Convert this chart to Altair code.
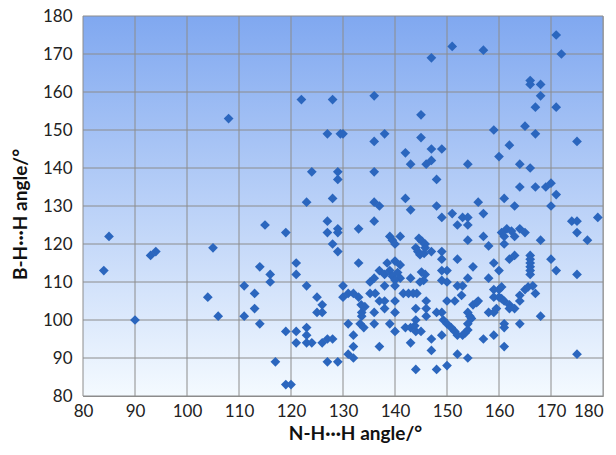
import altair as alt
import pandas as pd

# N-H...H angle (x) and B-H...H angle (y)
xs = [84, 85, 90, 93, 94, 104, 105, 106, 108,
      111, 111, 113, 113, 114, 114, 115, 116, 116, 117,
      119, 119, 119, 120, 121, 121, 121, 121,
      122, 123, 123, 123, 123, 123, 124, 124,
      125, 125, 126, 126, 126, 127, 127, 127, 127, 127,
      128, 128, 128, 128, 129, 129, 129, 129, 129, 129, 129.5,
      130, 130, 130, 131, 131, 131, 132, 132, 132, 132,
      133, 133, 133, 133.5, 133.6, 133.6, 133.3, 134, 134.2,
      135.2, 136, 135.2, 136.2, 136, 136, 136, 136, 136, 136, 137, 136,
      137, 137, 138, 138, 138, 137, 138,
      139, 139.5, 140, 141, 139, 140, 140, 140,
      138.5, 140, 141, 139, 140.5, 139.5, 141, 138, 140, 140,
      141.6, 142.6, 143.5, 144.2,
      142, 143, 142, 143, 143, 142, 143, 143.8, 144, 145, 143, 144, 144, 144,
      145, 145,
      144.6, 145.2, 145.8, 144, 144.4, 144.8, 145.6, 145.8,
      145.1, 145.8, 145.5, 144.8,
      146, 146, 146, 146,
      147, 147, 147, 147, 147, 147,
      148, 148, 148, 148,
      149, 149, 149, 149, 149, 149, 149, 149, 149.3,
      150, 150, 150, 150, 150,
      151, 151, 150.8, 151.5,
      152, 152, 152, 151.5, 152, 152,
      153, 152.8, 153, 153,
      154, 154, 154, 154, 154, 153.5, 154, 154, 154, 154.4, 154.7, 154,
      155, 155, 155.7, 156, 156,
      157, 157, 157, 157,
      158, 158, 158,
      159, 159, 159, 159, 159, 159,
      160, 160, 160, 160, 159.5,
      160.5, 160.5, 160.5, 161, 161, 161, 161, 161, 161, 161,
      161.5, 162, 162, 162, 162.4, 162,
      163, 163, 163, 163,
      164, 164, 164, 164, 164, 164,
      165, 165, 165,
      166, 166, 166, 166, 166, 166, 166, 166, 166, 165.6, 166.5,
      167, 167, 167, 167,
      168, 168, 168, 168,
      169, 170, 170, 170,
      171, 171, 171, 171,
      172,
      174, 175, 175, 175, 175, 175,
      177, 179]
ys = [113, 122, 100, 117, 118, 106, 119, 101, 153,
      109, 101, 107, 103, 114, 99, 125, 112, 110, 89,
      123, 97, 83, 83, 115, 112, 97, 94,
      158, 131, 109, 98, 96, 94, 94, 139,
      106, 102, 104, 102, 94, 95, 89, 126, 123, 149,
      158, 132, 120, 95, 89, 139, 124, 123, 118, 137, 149,
      149, 109, 106, 107, 99, 91, 107, 96, 93, 90,
      106, 124, 115, 104, 102, 101, 99, 98, 103.5,
      110, 111, 107, 107, 102, 99, 159, 147, 139, 131, 130, 126,
      113, 105, 105, 109, 103, 93, 149,
      122, 121, 120, 122, 99, 97, 105, 102,
      115, 115.5, 114.5, 113, 112.5, 111.5, 111, 112, 110.5, 109,
      107, 107, 107, 107,
      132, 129, 144, 141, 111, 98, 98, 98.5, 97, 97, 94, 100, 103, 87,
      154, 148,
      121.5, 120.7, 120, 119, 118, 117.2, 117.5, 119,
      112.6, 112, 110.4, 110,
      141, 105, 103, 101,
      169, 145, 142, 118, 95, 92,
      137, 130, 102, 87,
      145, 127, 118, 116, 113, 110.4, 96, 102, 100,
      113, 110, 105, 99, 88,
      172, 128, 98, 97,
      125, 116, 109, 105, 91, 96,
      127, 106.5, 96, 109,
      141, 127, 125, 121, 111, 96.6, 97.4, 99, 102, 101, 100.4, 90,
      114, 104, 104.6, 105, 131,
      171, 128, 122, 95,
      119.5, 111, 102,
      150, 115, 108, 106, 102, 96,
      143, 113, 108, 106, 103,
      123, 108.7, 105.6, 132, 120, 122, 105, 99, 98, 93,
      124, 146, 116, 104, 123.4, 103,
      130, 117, 122, 103,
      141, 135, 124, 106.5, 105, 99,
      151, 123, 108,
      163, 162, 140, 117, 116, 115, 114, 113, 112, 108.7, 109,
      156, 149, 135, 107,
      162, 159, 121, 101,
      135, 136, 130, 116,
      175, 156, 133, 113,
      170,
      126, 126, 123, 147, 112, 91,
      121, 127]

xticks = [80, 90, 100, 110, 120, 130, 140, 150, 160, 170, 180]
yticks = [80, 90, 100, 110, 120, 130, 140, 150, 160, 170, 180]

W, H = 520, 380
FONT = "Lato"
GRID = "#8c8c8c"

df = pd.DataFrame({"x": xs, "y": ys})
xscale = alt.Scale(domain=[80, 180], nice=False, zero=False)
yscale = alt.Scale(domain=[80, 180], nice=False, zero=False)
xaxis = alt.Axis(values=xticks, title="N-H\u00b7\u00b7\u00b7H angle/\u00b0", grid=False,
                 ticks=False, labelPadding=7, titleX=272, titleY=28,
                 labelAlign={"condition": {"test": "datum.value == 180", "value": "right"},
                             "value": "center"})
yaxis = alt.Axis(values=yticks, title="B-H\u00b7\u00b7\u00b7H angle/\u00b0", grid=False,
                 ticks=False, labelPadding=11, titleX=-53, titleY=198)

bg = alt.Chart(alt.Data(values=[{"k": 1}])).mark_rect(
    color=alt.Gradient(
        gradient="linear", x1=0, x2=0, y1=0, y2=1,
        stops=[alt.GradientStop(offset=0, color="#80a8f0"),
               alt.GradientStop(offset=1, color="#f4faff")],
    )
).encode(x=alt.value(0), x2=alt.value(W), y=alt.value(0), y2=alt.value(H))

vgrid = alt.Chart(pd.DataFrame({"x": xticks})).mark_rule(
    color=GRID, strokeWidth=1
).encode(x=alt.X("x:Q", scale=xscale, axis=xaxis))

hgrid = alt.Chart(pd.DataFrame({"y": yticks})).mark_rule(
    color=GRID, strokeWidth=1
).encode(y=alt.Y("y:Q", scale=yscale, axis=yaxis))

points = alt.Chart(df).mark_point(
    shape="diamond", filled=True, size=95, color="#2b66be", opacity=1
).encode(
    x=alt.X("x:Q", scale=xscale, axis=xaxis),
    y=alt.Y("y:Q", scale=yscale, axis=yaxis),
)

chart = alt.layer(bg, vgrid, hgrid, points).properties(
    width=W, height=H,
    autosize=alt.AutoSizeParams(type="none"),
    padding={"left": 75, "top": 8, "right": 5, "bottom": 49},
).configure_view(stroke="#b4b4b4", strokeWidth=1).configure_axis(
    domainColor=GRID, labelFont=FONT, titleFont=FONT, labelFontSize=17,
    titleFontSize=19, titleFontWeight="bold", labelColor="#222", titleColor="#111",
    labelFlush=False, labelOverlap=False,
)

chart.save("out.html", embed_options={"renderer": "svg", "actions": False})
